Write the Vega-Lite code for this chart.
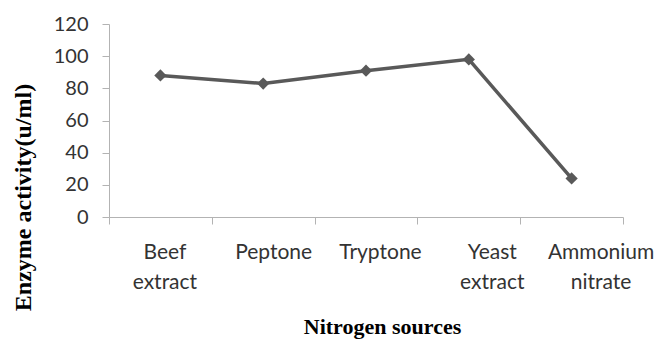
{
  "$schema": "https://vega.github.io/schema/vega-lite/v6.json",
  "width": 514,
  "height": 193,
  "autosize": {"type": "none"},
  "padding": {"left": 109, "top": 24, "right": 33, "bottom": 122},
  "background": "white",
  "config": {
    "view": {"stroke": null},
    "axis": {"domainColor": "#b3b3b3", "tickColor": "#b3b3b3", "grid": false}
  },
  "data": {
    "values": [
      {"source": "Beef extract", "activity": 88},
      {"source": "Peptone", "activity": 83},
      {"source": "Tryptone", "activity": 91},
      {"source": "Yeast extract", "activity": 98},
      {"source": "Ammonium nitrate", "activity": 24}
    ]
  },
  "encoding": {
    "x": {
      "field": "source",
      "type": "nominal",
      "sort": null,
      "scale": {"type": "band", "paddingInner": 0, "paddingOuter": 0},
      "axis": {
        "title": "Nitrogen sources",
        "titleFont": "Liberation Serif",
        "titleFontWeight": "bold",
        "titleFontSize": 22,
        "titleColor": "#000000",
        "titleX": 273,
        "titleAlign": "center",
        "titleY": 109,
        "titleBaseline": "middle",
        "tickBand": "extent",
        "tickSize": 7,
        "labelAngle": 0,
        "labelPadding": 17,
        "labelFont": "Lato",
        "labelFontSize": 21,
        "labelColor": "#333333",
        "labelLineHeight": 30,
        "labelOffset": {
          "condition": [
            {"test": "datum.value === 'Beef extract'", "value": 4},
            {"test": "datum.value === 'Peptone'", "value": 10},
            {"test": "datum.value === 'Tryptone'", "value": 14},
            {"test": "datum.value === 'Yeast extract'", "value": 23},
            {"test": "datum.value === 'Ammonium nitrate'", "value": 29}
          ],
          "value": 0
        },
        "labelExpr": "split(datum.label, ' ')"
      }
    },
    "y": {
      "field": "activity",
      "type": "quantitative",
      "scale": {"domain": [0, 120], "nice": false},
      "axis": {
        "title": "Enzyme activity(u/ml)",
        "titleFont": "Liberation Serif",
        "titleFontWeight": "bold",
        "titleFontSize": 24,
        "titleColor": "#000000",
        "titleAngle": 270,
        "titleX": -86,
        "titleY": 173,
        "titleAlign": "center",
        "titleBaseline": "middle",
        "values": [0, 20, 40, 60, 80, 100, 120],
        "tickSize": 7,
        "labelPadding": 14,
        "labelFont": "Lato",
        "labelFontSize": 20,
        "labelColor": "#333333"
      }
    }
  },
  "layer": [
    {"mark": {"type": "line", "color": "#595959", "strokeWidth": 3.5}},
    {"mark": {"type": "point", "shape": "diamond", "filled": true, "size": 150, "color": "#595959", "opacity": 1}}
  ]
}
